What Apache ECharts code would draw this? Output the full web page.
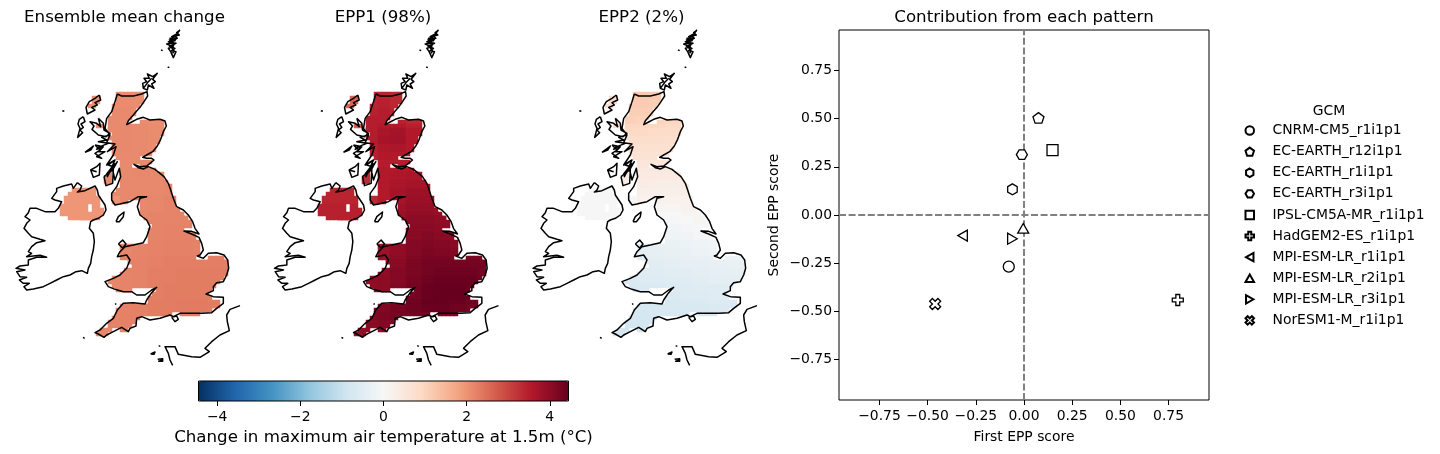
<!DOCTYPE html>
<html><head><meta charset="utf-8">
<style>html,body{margin:0;padding:0;background:#fff}#c{width:1440px;height:454px}</style>
<script src="https://cdn.jsdelivr.net/npm/echarts@6/dist/echarts.min.js"></script>
</head><body><div id="c"></div>
<script>
// ---------- text ----------
const panelTitles = ['Ensemble mean change', 'EPP1 (98%)', 'EPP2 (2%)'];
const scatterTitle = 'Contribution from each pattern';
const colorbarLabel = 'Change in maximum air temperature at 1.5m (°C)';
const colorbarTicks = [-4, -2, 0, 2, 4];
const scoreTicks = [-0.75, -0.5, -0.25, 0, 0.25, 0.5, 0.75];
const rdbu = ['#053061','#2166ac','#4393c3','#92c5de','#d1e5f0','#f7f7f7','#fddbc7','#f4a582','#d6604d','#b2182b','#67001f'];

// ---------- scatter data ----------
const gcmNames = ['CNRM-CM5_r1i1p1','EC-EARTH_r12i1p1','EC-EARTH_r1i1p1','EC-EARTH_r3i1p1','IPSL-CM5A-MR_r1i1p1','HadGEM2-ES_r1i1p1','MPI-ESM-LR_r1i1p1','MPI-ESM-LR_r2i1p1','MPI-ESM-LR_r3i1p1','NorESM1-M_r1i1p1'];
const firstScore  = [-0.079, 0.075, -0.060, -0.011, 0.148, 0.798, -0.319, -0.004, -0.060, -0.461];
const secondScore = [-0.268, 0.504, 0.133, 0.313, 0.337, -0.441, -0.107, -0.069, -0.123, -0.462];
const gcmMarkers = [
 'circle',
 'path://M0,-1L.951,-.309L.588,.809L-.588,.809L-.951,-.309Z',
 'path://M0,-1L.866,-.5L.866,.5L0,1L-.866,.5L-.866,-.5Z',
 'path://M-1,0L-.5,-.866L.5,-.866L1,0L.5,.866L-.5,.866Z',
 'rect',
 'path://M-.35,-1L.35,-1L.35,-.35L1,-.35L1,.35L.35,.35L.35,1L-.35,1L-.35,.35L-1,.35L-1,-.35L-.35,-.35Z',
 'path://M-1,0L.75,-1L.75,1Z',
 'path://M0,-1L1,.75L-1,.75Z',
 'path://M1,0L-.75,-1L-.75,1Z',
 'path://M-.5,-1L0,-.5L.5,-1L1,-.5L.5,0L1,.5L.5,1L0,.5L-.5,1L-1,.5L-.5,0L-1,-.5Z'
];

// ---------- coastlines (map units, y down) ----------
const coastGB = [[352,222],[365,228],[380,228],[400,228],[425,222],[441,215],[443,228],[432,245],[420,262],[408,275],[400,285],[385,302],[380,314],[395,306],[410,298],[430,292],[450,300],[480,298],[495,303],[499,318],[490,335],[482,358],[472,378],[458,395],[440,405],[428,412],[440,415],[455,415],[462,420],[450,430],[440,438],[420,440],[402,433],[415,443],[430,447],[445,440],[465,448],[480,460],[492,470],[505,490],[512,510],[520,535],[530,560],[550,570],[565,585],[578,605],[585,625],[597,642],[575,634],[552,633],[575,642],[597,652],[605,670],[610,690],[600,705],[592,708],[598,714],[610,715],[625,700],[650,698],[672,705],[683,720],[686,745],[680,765],[670,785],[650,788],[640,800],[640,812],[618,822],[640,830],[670,832],[670,850],[650,865],[635,878],[605,880],[570,880],[540,880],[520,890],[510,885],[480,895],[450,900],[425,890],[410,895],[408,918],[390,925],[385,935],[365,922],[340,935],[320,945],[312,952],[295,942],[285,938],[300,930],[320,910],[340,895],[352,870],[370,850],[400,848],[435,852],[440,840],[455,818],[470,802],[455,810],[435,825],[410,825],[395,815],[370,815],[345,808],[325,800],[315,785],[340,775],[360,765],[380,745],[390,720],[380,705],[352,710],[360,695],[375,680],[400,675],[430,668],[440,650],[450,620],[440,600],[420,585],[412,560],[420,535],[440,530],[415,530],[390,545],[375,548],[360,552],[345,555],[335,540],[335,520],[350,500],[362,470],[358,445],[345,480],[338,450],[352,425],[330,455],[322,470],[345,420],[320,435],[340,405],[348,380],[322,395],[345,372],[320,368],[330,345],[315,325],[320,295],[335,275],[345,245],[352,222]];
const coastIreland = [[232,488],[245,498],[240,510],[232,516],[255,512],[285,498],[292,510],[295,525],[305,540],[315,555],[318,570],[310,585],[295,595],[280,600],[272,605],[268,625],[280,640],[283,665],[280,690],[275,710],[272,730],[265,745],[262,760],[245,752],[228,755],[210,765],[190,770],[170,780],[150,790],[130,800],[100,807],[80,810],[72,800],[88,790],[70,790],[58,780],[80,772],[60,770],[50,755],[75,750],[48,745],[60,738],[85,735],[85,720],[110,712],[140,712],[120,706],[80,710],[95,700],[85,695],[95,680],[110,668],[135,662],[120,658],[95,650],[85,640],[72,625],[80,610],[90,600],[75,590],[85,578],[90,565],[110,565],[135,575],[165,575],[175,565],[185,545],[165,540],[155,535],[170,515],[170,505],[190,498],[215,492],[220,505],[232,488]];
const coastShetland = [[540,30],[530,38],[538,45],[525,48],[532,55],[510,55],[525,62],[505,65],[528,70],[508,78],[525,85],[515,92],[528,95],[520,113],[512,95],[505,85],[520,80],[500,72],[520,68],[508,60],[528,58],[515,50],[530,42],[540,30]];
const coastShetlandInner = [[532,42],[520,52],[526,60],[514,66],[522,74],[514,82],[522,92],[518,100]];
const coastOrkney = [[430,205],[428,190],[440,185],[432,175],[448,175],[442,162],[458,170],[472,160],[458,178],[466,185],[455,192],[462,205],[445,195],[442,210],[430,205],[445,185],[455,175]];
const coastLewis = [[298,225],[302,240],[285,248],[292,255],[275,262],[285,270],[262,282],[258,262],[268,245],[285,235],[298,225]];
const coastUist = [[250,290],[255,305],[243,312],[250,322],[240,330],[248,338],[233,352],[240,325],[234,312],[238,298],[250,290]];
const coastSkye = [[295,295],[302,320],[290,310],[270,305],[282,318],[276,328],[295,345],[318,350],[330,340],[312,330],[310,310],[295,295]];
const coastLochs = [[330,345],[305,352],[320,360],[295,365],[325,370],[300,380]];
const coastMull = [[285,375],[300,378],[290,388],[310,380],[296,395],[315,395],[290,410],[305,415],[285,400],[300,390],[285,375]];
const coastColl = [[255,397],[280,378],[272,390],[255,397]];
const coastIslay = [[272,450],[290,440],[300,430],[298,465],[280,472],[272,450],[290,455]];
const coastJura = [[345,420],[325,435],[340,440],[320,462],[345,430]];
const coastKintyre = [[312,470],[340,448],[338,490],[318,497],[312,470]];
const coastMan = [[348,605],[355,590],[372,576],[370,590],[358,605],[348,605]];
const coastAnglesey = [[355,672],[368,660],[378,672],[368,684],[355,672]];
const coastWight = [[515,892],[530,888],[535,898],[525,905],[515,892]];
const coastFrance = [[720,857],[690,868],[680,885],[682,905],[688,932],[660,945],[635,965],[615,985],[628,995],[600,1012],[575,1010],[535,1003],[525,980],[495,980],[505,1000],[510,1020],[518,1036]];
const coastJersey = [[473,1018],[488,1016],[488,1024],[476,1024],[473,1018],[488,1020]];
const coastGuernsey = [[452,1002],[465,996],[462,1003],[452,1002]];
const coastStKilda = [[187,272],[193,274]], coastFairIsle = [[503,141],[508,143]], coastFoula = [[483,90],[488,92]], coastScilly = [[249,952],[254,955]], coastLundy = [[346,850],[348,854]], coastAlderney = [[476,977],[481,979]];
const coastPieces = [coastGB,coastIreland,coastShetland,coastShetlandInner,coastOrkney,coastLewis,coastUist,coastSkye,coastLochs,coastMull,coastColl,coastIslay,coastJura,coastKintyre,coastMan,coastAnglesey,coastWight,coastFrance,coastJersey,coastGuernsey,coastStKilda,coastFairIsle,coastFoula,coastScilly,coastLundy,coastAlderney];

// ---------- land cells: [row y, x0, x1, x0, x1 ...] (map units) ----------
const landRows = [
 [225,350,435],[236,345,437,270,300],[247,345,428,270,298],[258,340,420,265,285],[269,335,412],[280,330,402],[291,325,392],
 [302,320,382,425,490,290,305],[313,320,495,290,310],[324,320,497],[335,325,490],[346,330,488],[357,325,483],[368,330,480],
 [379,335,472],[390,335,462],[401,340,450],[412,345,425],[423,355,455],[434,355,400,420,442],[445,360,468],[456,358,475],[467,358,488,320,340],
 [478,355,497,315,340],[489,360,505,315,335],[500,355,510],[511,345,514,220,285],[522,340,520,205,290],[533,340,522,190,298],
 [544,340,385,415,527,190,302],[555,418,530,185,265,276,305],[566,418,535,185,265,276,310],[577,420,548,185,310],[588,427,558,200,300],
 [599,435,568,245,280],[610,440,572],[621,450,578],[632,445,550],[643,445,585],[654,440,592],[665,440,600],[676,375,604,355,375],
 [687,365,604],[698,360,594,620,665],[709,355,585,618,675],[720,385,680],[731,385,684],[742,390,684],[753,375,682],[764,360,678],
 [775,335,672],[786,325,655],[797,330,645],[808,345,392,465,640],[819,455,620],[830,440,640],[841,440,665],[852,400,660],
 [863,360,645],[874,350,630],[885,343,515,545,600],[896,335,425],[907,325,407],[918,318,395],[929,305,340,365,385],[940,292,320]
];

// ---------- field values, read in blocks (rows from y=220, columns from x=176, 44 units wide) ----------
const n = null;
// block height 44
const meanChange = [
 [n,n,2.05,2.1,2.1,2.08],
 [n,n,n,2.13,2.13,2.1,2.08,2.08],
 [n,n,2.05,2.13,2.15,2.13,2.1,2.08],
 [n,n,n,2.13,2.15,2.13,2.1],
 [n,n,n,2.13,2.13,2.13,2.13],
 [n,n,n,2.13,2.13,2.15,2.15,2.15],
 [1.97,1.97,1.97,2.13,2.15,2.15,2.15,2.17],
 [1.97,1.97,1.97,2,2.15,2.15,2.17,2.2,2.2],
 [1.97,1.97,1.97,2,n,2.17,2.2,2.2,2.2,2.2],
 [n,n,n,n,n,n,2.2,2.22,2.22,2.22],
 [n,n,n,n,2.17,2.2,2.22,2.25,2.25,2.22],
 [n,n,n,2.17,2.2,2.22,2.25,2.27,2.27,2.27,2.27,2.27],
 [n,n,n,2.17,2.2,2.22,2.27,2.27,2.3,2.3,2.3,2.3],
 [n,n,n,2.17,2.2,2.22,2.27,2.3,2.3,2.3,2.3],
 [n,n,n,2.22,2.22,2.25,2.3,2.3,2.32,2.32,2.3,2.3],
 [n,n,n,2.22,2.25,2.25,2.3,2.3,2.3,2.3],
 [n,n,2.17,2.17,2.22]
];
// block height 22
const epp1 = [
 [n,n,2.6,3.4,3.4,3.35],
 [n,n,2.6,3.4,3.45,3.35],
 [n,n,n,3.45,3.5,3.4],
 [n,n,n,3.5,3.5,3.45,3.35,3.3],
 [n,n,2.7,3.5,3.55,3.55,3.45,3.35],
 [n,n,2.7,3.5,3.65,3.7,3.55,3.4],
 [n,n,n,3.5,3.7,3.75,3.55],
 [n,n,n,3.45,3.6,3.65,3.55],
 [n,n,n,3.45,3.55,3.55,3.5],
 [n,n,n,3.4,3.5,3.5,3.5],
 [n,n,n,3.4,3.55,3.55,3.55,3.6],
 [n,n,n,3.35,3.55,3.6,3.65,3.65],
 [n,n,n,3.3,3.55,3.65,3.7,3.7],
 [3.4,3.4,3.4,n,3.55,3.7,3.8,3.8],
 [3.4,3.4,3.4,3.35,3.55,3.7,3.85,3.85,3.85],
 [3.45,3.45,3.45,3.35,n,3.8,3.9,3.9,3.85],
 [3.45,3.45,3.45,3.4,n,3.85,3.95,3.95,3.9,3.85],
 [n,3.45,3.45,n,n,3.85,4,4,3.95,3.9],
 [n,n,n,n,n,n,4.05,4.05,4,3.95],
 [n,n,n,n,n,n,4.05,4.1,4.05,4],
 [n,n,n,n,3.75,3.95,4.1,4.15,4.1,4.05],
 [n,n,n,n,3.8,3.95,4.1,4.2,4.15,4.1],
 [n,n,n,3.85,3.85,4,4.15,4.25,4.25,4.2,4.2,4.2],
 [n,n,n,3.85,3.9,4.05,4.2,4.3,4.3,4.3,4.3,4.3],
 [n,n,n,3.9,3.95,4.1,4.2,4.3,4.35,4.35,4.35,4.3],
 [n,n,n,3.95,4,4.1,4.25,4.35,4.4,4.4,4.4,4.35],
 [n,n,n,3.95,4,4.15,4.3,4.4,4.45,4.45,4.4,4.35],
 [n,n,n,4,4.05,n,4.3,4.4,4.45,4.45,4.4],
 [n,n,n,n,n,4.2,4.35,4.45,4.45,4.4,4.35,4.3],
 [n,n,n,4.1,4.15,4.25,4.35,4.4,4.4,4.35,4.3,4.2],
 [n,n,n,4.15,4.2,4.25,4.3,4.3,4.25,4.2],
 [n,n,n,4.05,4.1,4.15],
 [n,n,3.9,3.95,4],
 [n,n,3.8,3.85]
];
// block height 22
const epp2 = [
 [n,n,0.8,1.2,1.2,1.15],
 [n,n,0.8,1.15,1.15,1.1],
 [n,n,n,1.1,1.1,1.05],
 [n,n,n,1.05,1,1,0.95,0.9],
 [n,n,0.85,0.95,0.95,0.95,0.9,0.9],
 [n,n,0.85,0.9,0.9,0.85,0.85,0.85],
 [n,n,n,0.8,0.8,0.8,0.75],
 [n,n,n,0.75,0.7,0.7,0.7],
 [n,n,n,0.65,0.65,0.65,0.6],
 [n,n,n,0.55,0.55,0.55,0.5],
 [n,n,n,0.45,0.45,0.45,0.45,0.45],
 [n,n,n,0.4,0.4,0.4,0.4,0.4],
 [n,n,n,0.3,0.35,0.3,0.3,0.35],
 [-0.03,-0.03,-0.03,n,0.25,0.25,0.25,0.3],
 [-0.03,-0.03,-0.03,-0.03,0.2,0.2,0.2,0.2,0.25],
 [-0.03,-0.03,-0.03,-0.03,n,0.1,0.1,0.15,0.2],
 [-0.03,-0.03,-0.03,-0.03,n,0,0,0.05,0.1,0.15],
 [n,-0.05,-0.05,n,n,-0.05,-0.05,0,0.05,0.1],
 [n,n,n,n,n,n,-0.15,-0.1,-0.05,0],
 [n,n,n,n,n,n,-0.2,-0.15,-0.1,-0.05],
 [n,n,n,n,-0.4,-0.35,-0.3,-0.25,-0.2,-0.15],
 [n,n,n,n,-0.45,-0.4,-0.35,-0.3,-0.25,-0.2],
 [n,n,n,-0.5,-0.5,-0.45,-0.4,-0.35,-0.3,-0.3,-0.25,-0.2],
 [n,n,n,-0.55,-0.5,-0.5,-0.45,-0.4,-0.4,-0.35,-0.3,-0.3],
 [n,n,n,-0.6,-0.55,-0.55,-0.5,-0.5,-0.45,-0.4,-0.4,-0.35],
 [n,n,n,-0.65,-0.6,-0.6,-0.55,-0.55,-0.5,-0.45,-0.45,-0.45],
 [n,n,n,-0.7,-0.65,-0.65,-0.6,-0.6,-0.55,-0.55,-0.5,-0.5],
 [n,n,n,-0.7,-0.7,n,-0.65,-0.6,-0.6,-0.55,-0.55],
 [n,n,n,n,n,-0.7,-0.7,-0.65,-0.65,-0.6,-0.6,-0.6],
 [n,n,n,-0.75,-0.75,-0.75,-0.7,-0.7,-0.7,-0.65,-0.65,-0.6],
 [n,n,n,-0.8,-0.8,-0.75,-0.75,-0.75,-0.7,-0.7],
 [n,n,n,-0.8,-0.8,-0.8],
 [n,n,-0.8,-0.8,-0.8],
 [n,n,-0.8,-0.8]
];
const fields = [meanChange, epp1, epp2];
const blockHeights = [44, 22, 22];

// ---------- layout ----------
const font = 'DejaVu Sans';
const panelLeft = [0, 258, 517];
const coastLeft = [0, 258.5, 517];
const panelTop = 20, mapW = 780, mapH = 1056, cell = 12;
const nCols = Math.round(mapW / cell), nRows = Math.round(mapH / cell);
const colCats = Array.from({length:nCols}, (_,i)=>String(i));
const rowCats = Array.from({length:nRows}, (_,i)=>String(i));
const fmt = v => String(v).replace('-', '\u2212');
const fmt2 = v => v.toFixed(2).replace('-', '\u2212');

const grids=[], xAxes=[], yAxes=[], series=[], titles=[];
const hiddenAxis = o => Object.assign({show:false}, o);

panelLeft.forEach((left, p) => {
  // heatmap
  grids.push({left, top:panelTop, width:mapW/3, height:mapH/3});
  xAxes.push(hiddenAxis({type:'category', data:colCats, gridIndex:grids.length-1}));
  yAxes.push(hiddenAxis({type:'category', data:rowCats, inverse:true, gridIndex:grids.length-1}));
  const cells = [];
  landRows.forEach(r => {
    const row = Math.round(r[0]/cell - 0.5);
    for (let s=1; s<r.length; s+=2) {
      for (let c=Math.round(r[s]/cell); c<Math.round(r[s+1]/cell); c++) {
        const tr = fields[p][Math.floor((r[0]-220)/blockHeights[p])] || [];
        const v = tr[Math.floor((c*cell-176)/44)];
        if (v !== null && v !== undefined) cells.push([c,row,v]);
      }
    }
  });
  series.push({type:'heatmap', xAxisIndex:grids.length-1, yAxisIndex:grids.length-1, data:cells, silent:true, progressive:0, z:2, emphasis:{disabled:true}});
  // coast
  grids.push({left:coastLeft[p], top:panelTop, width:mapW/3, height:mapH/3});
  xAxes.push(hiddenAxis({type:'value', min:0, max:mapW, gridIndex:grids.length-1}));
  yAxes.push(hiddenAxis({type:'value', min:0, max:mapH, inverse:true, gridIndex:grids.length-1}));
  const pts=[];
  coastPieces.forEach(pc => { pc.forEach(q=>pts.push(q)); pts.push([null,null]); });
  series.push({type:'line', xAxisIndex:grids.length-1, yAxisIndex:grids.length-1, data:pts, showSymbol:false, symbol:'none', silent:true, connectNulls:false, lineStyle:{color:'#000', width:1.5, join:'round'}, z:3, clip:false});
  titles.push({text:panelTitles[p], left:coastLeft[p]+124.5, top:9, padding:0, textAlign:'center', textStyle:{fontFamily:font, fontSize:16.67, fontWeight:'normal', color:'#000'}});
});

// colourbar axis
grids.push({left:198.5, top:381, width:370, height:20, show:true, borderColor:'#000', borderWidth:1, backgroundColor:'transparent', z:6});
const cbi = grids.length-1;
xAxes.push({type:'value', gridIndex:cbi, min:-4.45, max:4.45, name:colorbarLabel, nameLocation:'middle', nameGap:28,
  nameTextStyle:{fontFamily:font, fontSize:16.67, color:'#000'}, z:6,
  axisLine:{show:false, onZero:false}, splitLine:{show:false},
  axisTick:{show:true, length:5, customValues:colorbarTicks, lineStyle:{color:'#000', width:1}},
  axisLabel:{customValues:colorbarTicks, formatter:fmt, fontFamily:font, fontSize:13.9, color:'#000', margin:9}});
yAxes.push(hiddenAxis({type:'value', gridIndex:cbi}));

// scatter
grids.push({left:839, top:30, width:370, height:370, show:true, borderColor:'#000', borderWidth:1, backgroundColor:'transparent'});
const si = grids.length-1;
const scoreAxis = (name, gap, margin, pad) => ({type:'value', gridIndex:si, min:-0.96, max:0.96, name, nameLocation:'middle', nameGap:gap,
  nameTextStyle:{fontFamily:font, fontSize:13.9, color:'#000'},
  axisLine:{show:false, onZero:false}, splitLine:{show:false},
  axisTick:{show:true, length:5, customValues:scoreTicks, lineStyle:{color:'#000', width:1}},
  axisLabel:{customValues:scoreTicks, formatter:fmt2, fontFamily:font, fontSize:13.9, color:'#000', margin, padding:pad}});
xAxes.push(scoreAxis('First EPP score', 30, 9, 0));
yAxes.push(scoreAxis('Second EPP score', 58, 7, [4,0,0,0]));

gcmNames.forEach((name,i) => {
  const s = {type:'scatter', name, xAxisIndex:si, yAxisIndex:si, data:[[firstScore[i], secondScore[i]]],
    symbol:gcmMarkers[i], symbolSize:11, symbolKeepAspect:true, silent:true, z:5,
    itemStyle:{color:'#fff', borderColor:'#000', borderWidth:1.3, opacity:1}};
  if (i===0) s.markLine = {silent:true, symbol:'none', animation:false, label:{show:false},
    lineStyle:{color:'#808080', type:[7,2.6], width:2}, data:[{xAxis:0},{yAxis:0}], z:1};
  series.push(s);
});

titles.push({text:scatterTitle, left:1024, top:9, padding:0, textAlign:'center', textStyle:{fontFamily:font, fontSize:16.67, fontWeight:'normal', color:'#000'}});
titles.push({text:'GCM', left:1329, top:104, padding:0, textAlign:'center', textStyle:{fontFamily:font, fontSize:13.9, fontWeight:'normal', color:'#000'}});

const chart = echarts.init(document.getElementById('c'), null, {renderer:'canvas'});
chart.setOption({
  animation:false, backgroundColor:'#fff', tooltip:{show:false},
  title:titles, grid:grids, xAxis:xAxes, yAxis:yAxes, series,
  visualMap:{type:'continuous', show:true, orient:'horizontal', seriesIndex:[0,2,4], dimension:2, min:-4.45, max:4.45,
    left:198.5, top:381, padding:0, itemWidth:20, itemHeight:370, calculable:false, realtime:false, hoverLink:false, text:null, showLabel:false,
    textStyle:{fontSize:0}, inRange:{color:rdbu}, z:4},
  legend:{show:true, orient:'vertical', left:1244.5, top:120, padding:0, data:gcmNames, itemWidth:8.5, itemHeight:8.5, itemGap:0, selectedMode:false,
    textStyle:{fontFamily:font, fontSize:13.9, color:'#000', lineHeight:21.1, height:21.1, padding:[0,0,0,13.5]}}
});
</script></body></html>
